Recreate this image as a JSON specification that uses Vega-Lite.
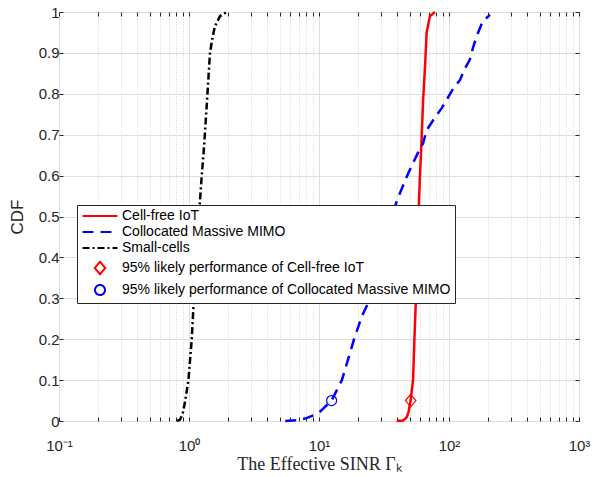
{
  "$schema": "https://vega.github.io/schema/vega-lite/v6.json",
  "width": 520,
  "height": 409,
  "autosize": {"type": "none"},
  "padding": {"left": 59, "top": 12, "right": 15, "bottom": 56},
  "background": "white",
  "config": {
    "view": {"stroke": "#262626", "strokeWidth": 1},
    "font": "Liberation Sans",
    "legend": {
      "orient": "none",
      "legendX": 18,
      "legendY": 193,
      "symbolSize": 100,
      "symbolStrokeWidth": 2,
      "symbolOffset": 12,
      "labelFontSize": 14,
      "labelFont": "Liberation Sans",
      "labelColor": "black",
      "labelLimit": 400,
      "padding": 4,
      "strokeColor": "#262626",
      "fillColor": "white",
      "rowPadding": 2,
      "labelOffset": 15
    }
  },
  "datasets": {
    "curves": [
      {"series": "Cell-free IoT", "sinr": 39.6, "cdf": 0},
      {"series": "Cell-free IoT", "sinr": 44.3, "cdf": 0.001},
      {"series": "Cell-free IoT", "sinr": 47.0, "cdf": 0.008},
      {"series": "Cell-free IoT", "sinr": 48.6, "cdf": 0.019},
      {"series": "Cell-free IoT", "sinr": 50.7, "cdf": 0.05},
      {"series": "Cell-free IoT", "sinr": 52.9, "cdf": 0.1},
      {"series": "Cell-free IoT", "sinr": 54.2, "cdf": 0.2},
      {"series": "Cell-free IoT", "sinr": 55.7, "cdf": 0.3},
      {"series": "Cell-free IoT", "sinr": 57.2, "cdf": 0.42},
      {"series": "Cell-free IoT", "sinr": 58.8, "cdf": 0.54},
      {"series": "Cell-free IoT", "sinr": 59.8, "cdf": 0.6},
      {"series": "Cell-free IoT", "sinr": 61.6, "cdf": 0.69},
      {"series": "Cell-free IoT", "sinr": 63.2, "cdf": 0.785},
      {"series": "Cell-free IoT", "sinr": 65.4, "cdf": 0.866},
      {"series": "Cell-free IoT", "sinr": 67.3, "cdf": 0.95},
      {"series": "Cell-free IoT", "sinr": 71.4, "cdf": 0.99},
      {"series": "Cell-free IoT", "sinr": 78.0, "cdf": 1.0},
      {"series": "Collocated Massive MIMO", "sinr": 5.5, "cdf": 0},
      {"series": "Collocated Massive MIMO", "sinr": 7.0, "cdf": 0.002},
      {"series": "Collocated Massive MIMO", "sinr": 8.0, "cdf": 0.007},
      {"series": "Collocated Massive MIMO", "sinr": 9.9, "cdf": 0.019},
      {"series": "Collocated Massive MIMO", "sinr": 12.5, "cdf": 0.05},
      {"series": "Collocated Massive MIMO", "sinr": 15.0, "cdf": 0.1},
      {"series": "Collocated Massive MIMO", "sinr": 17.3, "cdf": 0.166},
      {"series": "Collocated Massive MIMO", "sinr": 18.6, "cdf": 0.2},
      {"series": "Collocated Massive MIMO", "sinr": 21.3, "cdf": 0.255},
      {"series": "Collocated Massive MIMO", "sinr": 24.0, "cdf": 0.29},
      {"series": "Collocated Massive MIMO", "sinr": 30.0, "cdf": 0.4},
      {"series": "Collocated Massive MIMO", "sinr": 36.0, "cdf": 0.5},
      {"series": "Collocated Massive MIMO", "sinr": 40.8, "cdf": 0.548},
      {"series": "Collocated Massive MIMO", "sinr": 48.6, "cdf": 0.606},
      {"series": "Collocated Massive MIMO", "sinr": 58.1, "cdf": 0.658},
      {"series": "Collocated Massive MIMO", "sinr": 63.2, "cdf": 0.679},
      {"series": "Collocated Massive MIMO", "sinr": 67.3, "cdf": 0.711},
      {"series": "Collocated Massive MIMO", "sinr": 75.7, "cdf": 0.736},
      {"series": "Collocated Massive MIMO", "sinr": 87.9, "cdf": 0.765},
      {"series": "Collocated Massive MIMO", "sinr": 95.6, "cdf": 0.785},
      {"series": "Collocated Massive MIMO", "sinr": 108.0, "cdf": 0.813},
      {"series": "Collocated Massive MIMO", "sinr": 121.6, "cdf": 0.834},
      {"series": "Collocated Massive MIMO", "sinr": 132.7, "cdf": 0.862},
      {"series": "Collocated Massive MIMO", "sinr": 144.5, "cdf": 0.883},
      {"series": "Collocated Massive MIMO", "sinr": 153.7, "cdf": 0.915},
      {"series": "Collocated Massive MIMO", "sinr": 163.0, "cdf": 0.94},
      {"series": "Collocated Massive MIMO", "sinr": 181.6, "cdf": 0.977},
      {"series": "Collocated Massive MIMO", "sinr": 206.7, "cdf": 0.993},
      {"series": "Small-cells", "sinr": 0.81, "cdf": 0},
      {"series": "Small-cells", "sinr": 0.85, "cdf": 0.003},
      {"series": "Small-cells", "sinr": 0.89, "cdf": 0.015},
      {"series": "Small-cells", "sinr": 0.93, "cdf": 0.045},
      {"series": "Small-cells", "sinr": 0.99, "cdf": 0.1},
      {"series": "Small-cells", "sinr": 1.05, "cdf": 0.2},
      {"series": "Small-cells", "sinr": 1.09, "cdf": 0.3},
      {"series": "Small-cells", "sinr": 1.15, "cdf": 0.42},
      {"series": "Small-cells", "sinr": 1.215, "cdf": 0.54},
      {"series": "Small-cells", "sinr": 1.253, "cdf": 0.6},
      {"series": "Small-cells", "sinr": 1.305, "cdf": 0.67},
      {"series": "Small-cells", "sinr": 1.368, "cdf": 0.77},
      {"series": "Small-cells", "sinr": 1.45, "cdf": 0.9},
      {"series": "Small-cells", "sinr": 1.52, "cdf": 0.94},
      {"series": "Small-cells", "sinr": 1.585, "cdf": 0.965},
      {"series": "Small-cells", "sinr": 1.732, "cdf": 0.99},
      {"series": "Small-cells", "sinr": 1.95, "cdf": 1.0}
    ],
    "markers": [
      {"series": "95% likely performance of Cell-free IoT", "sinr": 50.7, "cdf": 0.05},
      {"series": "95% likely performance of Collocated Massive MIMO", "sinr": 12.5, "cdf": 0.05}
    ]
  },
  "layer": [
    {
      "data": {"name": "curves"},
      "mark": {"type": "line", "strokeWidth": 2.5},
      "encoding": {
        "x": {
          "field": "sinr", "type": "quantitative",
          "scale": {"type": "log", "domain": [0.1, 1000]},
          "axis": {
            "orient": "bottom",
            "values": [0.1, 0.2, 0.3, 0.4, 0.5, 0.6, 0.7, 0.8, 0.9, 1, 2, 3, 4, 5, 6, 7, 8, 9, 10, 20, 30, 40, 50, 60, 70, 80, 90, 100, 200, 300, 400, 500, 600, 700, 800, 900, 1000],
            "labelExpr": "datum.value == 0.1 ? '10⁻¹' : datum.value == 1 ? '10⁰' : datum.value == 10 ? '10¹' : datum.value == 100 ? '10²' : datum.value == 1000 ? '10³' : ''",
            "grid": true,
            "gridColor": {"condition": {"test": "indexof([0.1, 1, 10, 100, 1000], datum.value) >= 0", "value": "#dedede"}, "value": "#cfcfcf"},
            "gridDash": {"condition": {"test": "indexof([0.1, 1, 10, 100, 1000], datum.value) >= 0", "value": []}, "value": [1, 2]},
            "gridWidth": 1,
            "domain": false,
            "tickSize": -4,
            "tickColor": "#262626",
            "labelFontSize": 15,
            "labelColor": "#262626",
            "labelFont": "Liberation Sans",
            "labelBaseline": "alphabetic",
            "labelPadding": 33,
            "labelFlush": false,
            "labelOverlap": false,
            "title": "The Effective SINR Γₖ",
            "titleFont": "Liberation Serif",
            "titleFontSize": 18,
            "titleFontWeight": "normal",
            "titleColor": "#262626",
            "titleBaseline": "alphabetic",
            "titleY": 48
          }
        },
        "y": {
          "field": "cdf", "type": "quantitative",
          "scale": {"domain": [0, 1]},
          "axis": {
            "orient": "left",
            "values": [0, 0.1, 0.2, 0.3, 0.4, 0.5, 0.6, 0.7, 0.8, 0.9, 1],
            "labelExpr": "format(datum.value, '~g')",
            "grid": true,
            "gridColor": "#dedede",
            "domain": false,
            "tickSize": -4,
            "tickColor": "#262626",
            "labelFontSize": 15,
            "labelColor": "#262626",
            "labelFont": "Liberation Sans",
            "labelPadding": 4,
            "labelFlush": false,
            "title": "CDF",
            "titleFont": "Liberation Sans",
            "titleFontSize": 17,
            "titleFontWeight": "normal",
            "titleColor": "#262626",
            "titleBaseline": "middle",
            "titleAlign": "center",
            "titleX": -42,
            "titleY": 204.5
          }
        },
        "color": {
          "field": "series", "type": "nominal",
          "scale": {
            "domain": ["Cell-free IoT", "Collocated Massive MIMO", "Small-cells", "95% likely performance of Cell-free IoT", "95% likely performance of Collocated Massive MIMO"],
            "range": ["#ff0000", "#0000ff", "#000000", "#ff0000", "#0000ff"]
          },
          "legend": {
            "title": null,
            "encode": {
              "symbols": {
                "update": {
                  "fill": {"value": "transparent"}
                }
              }
            }
          }
        },
        "strokeDash": {
          "field": "series", "type": "nominal",
          "scale": {
            "domain": ["Cell-free IoT", "Collocated Massive MIMO", "Small-cells", "95% likely performance of Cell-free IoT", "95% likely performance of Collocated Massive MIMO"],
            "range": [[1, 0], [11, 7], [7, 3, 2, 3], [1, 0], [1, 0]]
          },
          "legend": {"title": null}
        }
      }
    },
    {
      "data": {"name": "markers"},
      "mark": {"type": "point", "filled": false, "size": 100, "strokeWidth": 1.2, "opacity": 1},
      "encoding": {
        "x": {
          "field": "sinr", "type": "quantitative",
          "axis": {
            "orient": "top",
            "values": [0.1, 0.2, 0.3, 0.4, 0.5, 0.6, 0.7, 0.8, 0.9, 1, 2, 3, 4, 5, 6, 7, 8, 9, 10, 20, 30, 40, 50, 60, 70, 80, 90, 100, 200, 300, 400, 500, 600, 700, 800, 900, 1000],
            "labels": false,
            "grid": false,
            "domain": false,
            "tickSize": -4,
            "tickColor": "#262626",
            "title": null
          }
        },
        "y": {
          "field": "cdf", "type": "quantitative",
          "axis": {
            "orient": "right",
            "values": [0, 0.1, 0.2, 0.3, 0.4, 0.5, 0.6, 0.7, 0.8, 0.9, 1],
            "labels": false,
            "grid": false,
            "domain": false,
            "tickSize": -4,
            "tickColor": "#262626",
            "title": null
          }
        },
        "color": {"field": "series", "type": "nominal", "legend": {"title": null}},
        "shape": {
          "field": "series", "type": "nominal",
          "scale": {
            "domain": ["Cell-free IoT", "Collocated Massive MIMO", "Small-cells", "95% likely performance of Cell-free IoT", "95% likely performance of Collocated Massive MIMO"],
            "range": ["M-3.5,0L3.5,0", "M-3.5,0L3.5,0", "M-3.5,0L3.5,0", "M0,-1.25L1.05,0L0,1.25L-1.05,0Z", "circle"]
          },
          "legend": {"title": null}
        }
      }
    }
  ],
  "resolve": {"axis": {"x": "independent", "y": "independent"}}
}
